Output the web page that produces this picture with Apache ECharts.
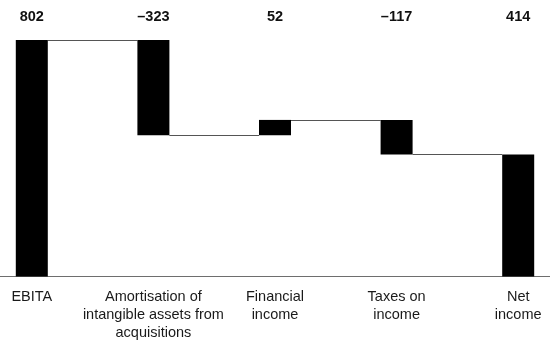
<!DOCTYPE html>
<html>
<head>
<meta charset="utf-8">
<script src="https://cdn.jsdelivr.net/npm/echarts@6/dist/echarts.min.js"></script>
<style>
  html, body { margin: 0; padding: 0; background: #fff; }
  #chart { width: 550px; height: 340px; }
</style>
</head>
<body>
<div id="chart"></div>
<script>
// Bridge from EBITA to net income (values in millions)
const categories = [
  'EBITA',
  'Amortisation of\nintangible assets from\nacquisitions',
  'Financial\nincome',
  'Taxes on\nincome',
  'Net\nincome'
];
const changes = [802, -323, 52, -117, 414];
const isTotal = [true, false, false, false, true];

// Printed value above each column (minus shown as en dash)
const valueLabels = changes.map(v => (v < 0 ? '\u2013' + Math.abs(v) : String(v)));

// Floating segments: invisible base + visible height
const bases = [];
const heights = [];
const levels = []; // running level after each step
let running = 0;
changes.forEach((v, i) => {
  if (isTotal[i]) {
    bases.push(0);
    heights.push(v);
    running = v;
  } else {
    const next = running + v;
    bases.push(Math.min(running, next));
    heights.push(Math.abs(v));
    running = next;
  }
  levels.push(running);
});

const BAR_W = 32;
const FONT = '"Liberation Sans", Arial, Helvetica, sans-serif';

const chart = echarts.init(document.getElementById('chart'), null, { renderer: 'canvas' });

chart.setOption({
  animation: false,
  backgroundColor: '#ffffff',
  grid: {
    left: -29, width: 608, top: 40, bottom: 63.5,
    containLabel: false,
    outerBoundsMode: 'none'
  },
  xAxis: [
    {
      type: 'category',
      data: categories,
      position: 'bottom',
      axisLine: { show: true, lineStyle: { color: '#6e6e6e', width: 1 } },
      axisTick: { show: false },
      axisLabel: {
        interval: 0,
        margin: 11,
        color: '#1a1a1a',
        fontFamily: FONT,
        fontSize: 14.5,
        lineHeight: 18
      }
    },
    {
      type: 'category',
      data: valueLabels,
      position: 'top',
      axisLine: { show: false },
      axisTick: { show: false },
      axisLabel: {
        interval: 0,
        margin: 16,
        color: '#111',
        fontFamily: FONT,
        fontWeight: 'bold',
        fontSize: 14.5
      }
    }
  ],
  yAxis: {
    type: 'value',
    min: 0,
    max: 802,
    show: false,
    splitLine: { show: false }
  },
  series: [
    {
      type: 'bar',
      stack: 'wf',
      data: bases,
      barWidth: BAR_W,
      itemStyle: { color: 'transparent' },
      silent: true
    },
    {
      type: 'bar',
      stack: 'wf',
      data: heights,
      barWidth: BAR_W,
      itemStyle: { color: '#000000' }
    },
    {
      // connector lines between neighbouring columns
      type: 'custom',
      data: levels.slice(0, -1).map((lvl, i) => [i, lvl]),
      renderItem: function (params, api) {
        const i = api.value(0);
        const lvl = api.value(1);
        const p0 = api.coord([i, lvl]);
        const p1 = api.coord([i + 1, lvl]);
        const half = BAR_W / 2;
        const y = Math.round(p0[1]) + 0.5;
        return {
          type: 'line',
          shape: { x1: p0[0] + half, y1: y, x2: p1[0] - half, y2: y },
          style: { stroke: '#555555', lineWidth: 1 }
        };
      },
      z: 1
    }
  ]
});
</script>
</body>
</html>
